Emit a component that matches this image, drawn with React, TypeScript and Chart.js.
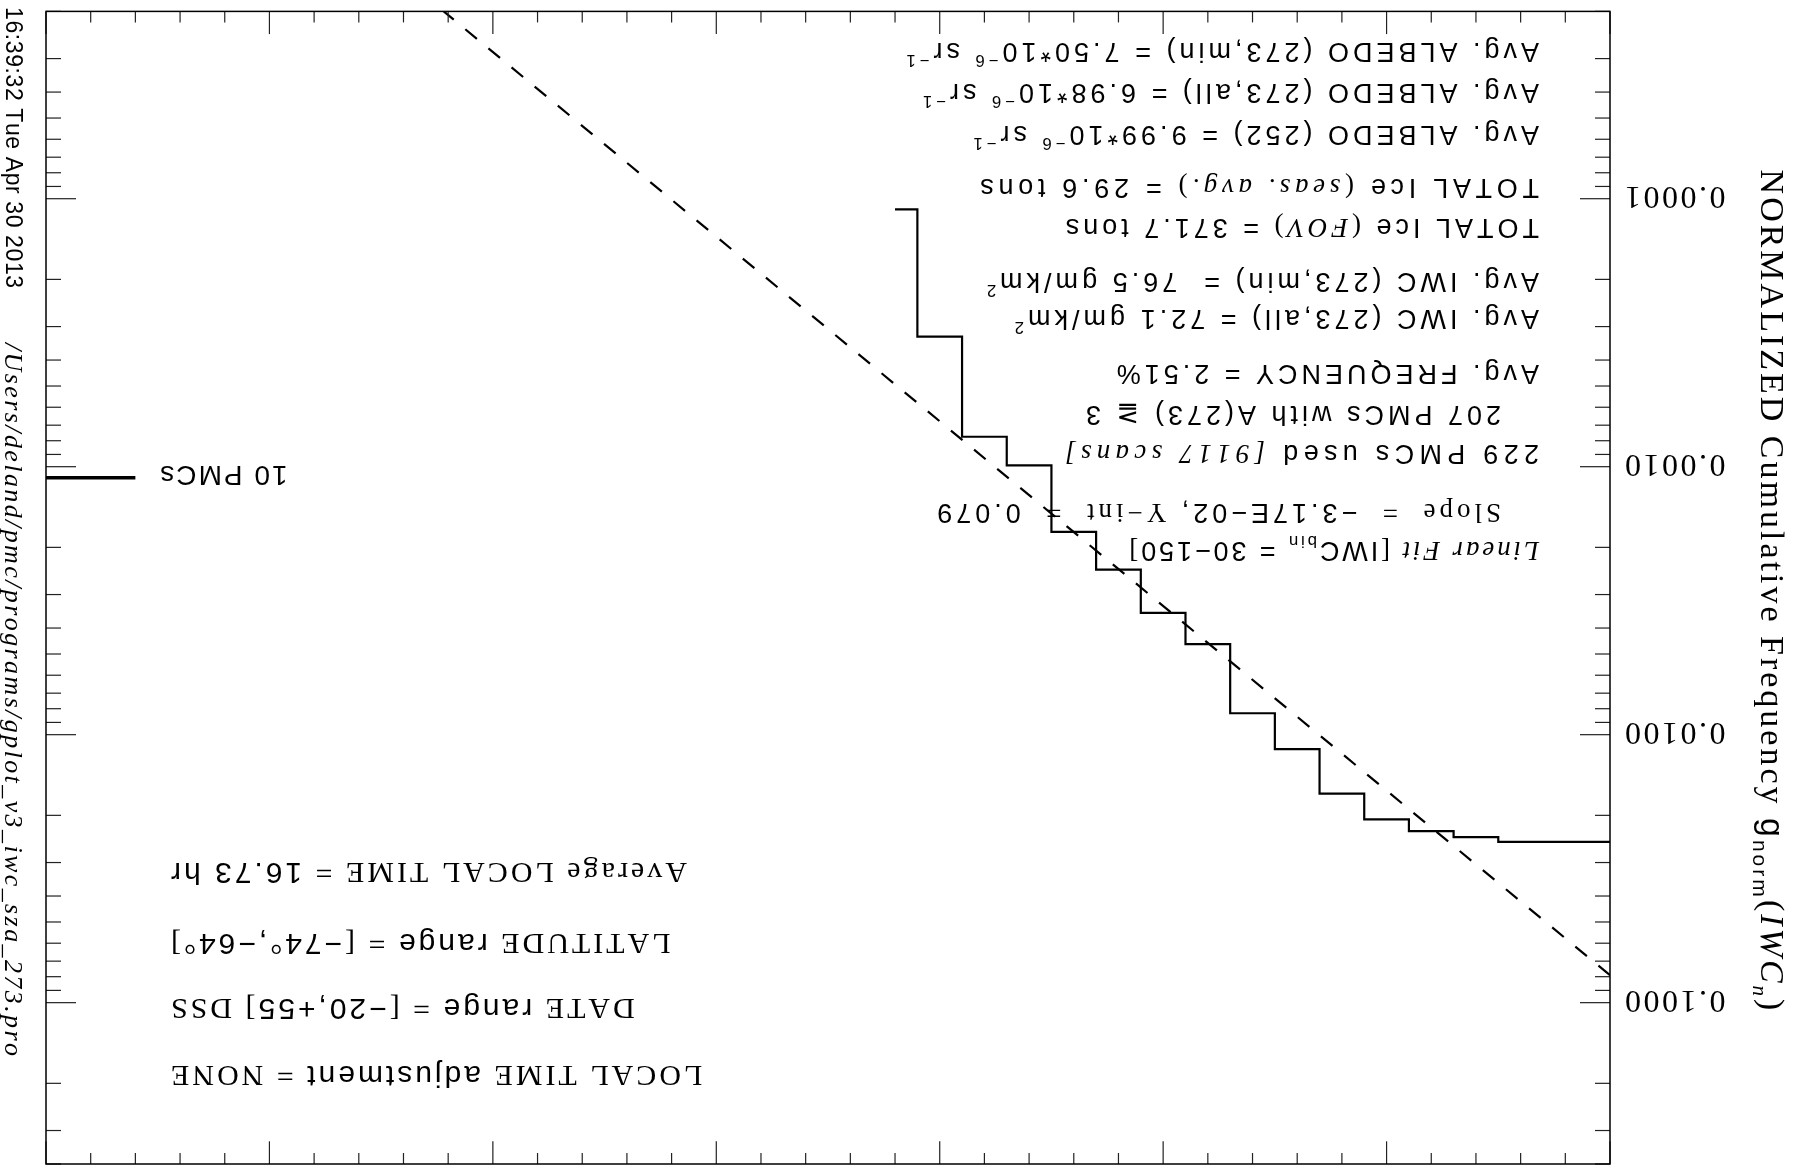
import React, { useEffect, useRef } from "react";
import { Chart, registerables } from "chart.js";

Chart.register(...registerables);

// ---------------- data ----------------
const IWC_BINS = [0, 10, 20, 30, 40, 50, 60, 70, 80, 90, 100, 110, 120, 130, 140, 150, 160];
const G_NORM = [
  0.0251, 0.0251, 0.0251, 0.0241, 0.0229, 0.0207, 0.0166, 0.01133, 0.00832, 0.00459,
  0.00351, 0.00242, 0.00175, 0.000988, 0.000773, 0.000327, 0.0001096,
];
const FIT_IWC = [0, 261];
const FIT_G = [0.079, 0.00002];
const PMC10_IWC = [330, 350];
const PMC10_G = [0.0011, 0.0011];

const X_MIN = 0;
const X_MAX = 350;
const X_MAJOR = 50;
const X_MINOR = 10;
const Y_MIN = 2e-5;
const Y_MAX = 0.4;
const Y_TICK_VALUES = [1e-4, 1e-3, 1e-2, 1e-1];
const Y_TICK_LABELS = ["0.0001", "0.0010", "0.0100", "0.1000"];

type Run = { t: string; s?: "sans" | "serif" | "ital"; v?: "sup" | "sub" };

const STATS_LINES: Run[][] = [
  [{ t: "Linear Fit", s: "ital" }, { t: " [", s: "serif" }, { t: "IWC" }, { t: "bin", v: "sub" }, { t: " = 30\u2212150" }, { t: "]", s: "serif" }],
  [{ t: "Slope  =  ", s: "serif" }, { t: "\u22123.17E\u221202, " }, { t: "Y\u2212int  =  ", s: "serif" }, { t: "0.079" }],
  [{ t: "229 PMCs used " }, { t: "[9117 scans]", s: "ital" }],
  [{ t: "207 PMCs with A(273) \u2267 3" }],
  [{ t: "Avg. FREQUENCY = 2.51%" }],
  [{ t: "Avg. IWC (273,all) = 72.1 gm/km" }, { t: "2", v: "sup" }],
  [{ t: "Avg. IWC (273,min) =  76.5 gm/km" }, { t: "2", v: "sup" }],
  [{ t: "TOTAL Ice " }, { t: "(", s: "serif" }, { t: "FOV", s: "ital" }, { t: ")", s: "serif" }, { t: " = 371.7 tons" }],
  [{ t: "TOTAL Ice " }, { t: "(", s: "serif" }, { t: "seas. avg.", s: "ital" }, { t: ")", s: "serif" }, { t: " = 29.6 tons" }],
  [{ t: "Avg. ALBEDO (252) = 9.99*10" }, { t: "\u22126", v: "sup" }, { t: " sr" }, { t: "\u22121", v: "sup" }],
  [{ t: "Avg. ALBEDO (273,all) = 6.98*10" }, { t: "\u22126", v: "sup" }, { t: " sr" }, { t: "\u22121", v: "sup" }],
  [{ t: "Avg. ALBEDO (273,min) = 7.50*10" }, { t: "\u22126", v: "sup" }, { t: " sr" }, { t: "\u22121", v: "sup" }],
];

const INFO_LINES: Run[][] = [
  [{ t: "LOCAL TIME ", s: "serif" }, { t: "adjustment" }, { t: " = NONE", s: "serif" }],
  [{ t: "DATE ", s: "serif" }, { t: "range" }, { t: " = [", s: "serif" }, { t: "\u221220,+55" }, { t: "] DSS", s: "serif" }],
  [{ t: "LATITUDE ", s: "serif" }, { t: "range" }, { t: " = [", s: "serif" }, { t: "\u221274" }, { t: "\u00b0", s: "serif" }, { t: ",\u221264" }, { t: "\u00b0]", s: "serif" }],
  [{ t: "Average LOCAL TIME = ", s: "serif" }, { t: "16.73 hr" }],
];

const Y_TITLE: Run[] = [
  { t: "NORMALIZED Cumulative Frequency ", s: "serif" },
  { t: "g" },
  { t: "norm", v: "sub" },
  { t: "(", s: "serif" },
  { t: "IWC", s: "ital" },
  { t: "n", s: "ital", v: "sub" },
  { t: ")", s: "serif" },
];
const STAMP: Run[] = [{ t: "16:39:32 Tue Apr 30 2013" }];
const PATH: Run[] = [{ t: "/Users/deland/pmc/programs/gplot_v3_iwc_sza_273.pro", s: "ital" }];
const PMC_LABEL: Run[] = [{ t: "10 PMCs" }];

// ---------------- layout (unrotated page coordinates) ----------------
const W = 1797;
const H = 1169;
const PAD = { left: 187, right: 46, top: 5, bottom: 11.4 };
const STATS_X = [258, 296, 258, 296, 258, 258, 258, 258, 258, 258, 258, 258];
const STATS_Y = [617, 655, 714, 753, 794, 849, 886, 940, 980, 1033, 1075, 1116];
const STATS_LS = [2.9, 4, 5.3, 4, 4, 4, 4, 4, 4.7, 4, 4, 4];
const INFO_RIGHT = 1626;
const INFO_Y = [92, 159, 224, 295];

const FAM: Record<string, string> = {
  sans: '"Liberation Sans", Arial, sans-serif',
  serif: '"Liberation Serif", "Times New Roman", serif',
  ital: '"Liberation Serif", "Times New Roman", serif',
};

function fontFor(r: Run, size: number) {
  const sz = r.v ? size * 0.62 : size;
  const style = r.s === "ital" ? "italic " : "";
  return `${style}${sz}px ${FAM[r.s || "sans"]}`;
}

function runsWidth(ctx: CanvasRenderingContext2D, runs: Run[], size: number, ls: number) {
  let w = 0;
  for (const r of runs) {
    ctx.font = fontFor(r, size);
    for (const ch of r.t) w += ctx.measureText(ch).width + ls;
  }
  return w - ls;
}

function drawRuns(
  ctx: CanvasRenderingContext2D,
  runs: Run[],
  x: number,
  y: number,
  size: number,
  ls: number,
  align: "left" | "right" | "center" = "left"
) {
  const w = runsWidth(ctx, runs, size, ls);
  let cx = align === "right" ? x - w : align === "center" ? x - w / 2 : x;
  const base = y + size * 0.36;
  ctx.textAlign = "left";
  ctx.textBaseline = "alphabetic";
  for (const r of runs) {
    ctx.font = fontFor(r, size);
    const by = r.v === "sup" ? base - size * 0.42 : r.v === "sub" ? base + size * 0.22 : base;
    for (const ch of r.t) {
      ctx.fillText(ch, cx, by);
      cx += ctx.measureText(ch).width + ls;
    }
  }
}

const decor = {
  id: "decor",
  afterDatasetsDraw(chart: any) {
    const ctx: CanvasRenderingContext2D = chart.ctx;
    const a = chart.chartArea;
    const xs = chart.scales.x;
    const ys = chart.scales.y;
    ctx.save();
    const seg = (x1: number, y1: number, x2: number, y2: number) => {
      ctx.beginPath();
      ctx.moveTo(x1, y1);
      ctx.lineTo(x2, y2);
      ctx.stroke();
    };
    // ticks
    ctx.strokeStyle = "#222";
    ctx.lineWidth = 1.2;
    const nx = Math.round((X_MAX - X_MIN) / X_MINOR);
    for (let i = 0; i <= nx; i++) {
      const v = X_MIN + i * X_MINOR;
      const px = xs.getPixelForValue(v);
      const len = v % X_MAJOR === 0 ? 22.7 : 11;
      seg(px, a.bottom, px, a.bottom - len);
      seg(px, a.top, px, a.top + len);
    }
    for (let e = -6; e <= 1; e++) {
      for (let k = 1; k <= 9; k++) {
        const v = k * Math.pow(10, e);
        if (v < Y_MIN * 0.999 || v > Y_MAX * 1.001) continue;
        const py = ys.getPixelForValue(v);
        const len = k === 1 ? 30 : 15;
        seg(a.left, py, a.left + len, py);
        seg(a.right, py, a.right - len, py);
      }
    }
    // frame
    ctx.strokeStyle = "#000";
    ctx.lineWidth = 1.5;
    ctx.strokeRect(a.left, a.top, a.right - a.left, a.bottom - a.top);

    ctx.fillStyle = "#000";
    // y tick labels
    Y_TICK_VALUES.forEach((v, i) => {
      drawRuns(ctx, [{ t: Y_TICK_LABELS[i], s: "serif" }], a.left - 15, ys.getPixelForValue(v), 32, 2.5, "right");
    });
    // y title
    ctx.save();
    ctx.translate(24, 579);
    ctx.rotate(-Math.PI / 2);
    drawRuns(ctx, Y_TITLE, 0, 0, 34, 3, "center");
    ctx.restore();
    // timestamp + path
    ctx.save();
    ctx.translate(1783, 1162);
    ctx.rotate(-Math.PI / 2);
    drawRuns(ctx, STAMP, 0, 0, 23, 0.6, "left");
    drawRuns(ctx, PATH, 336, 0, 26, 2.4, "left");
    ctx.restore();
    // stats block
    STATS_LINES.forEach((runs, i) => drawRuns(ctx, runs, STATS_X[i], STATS_Y[i], 27, STATS_LS[i], "left"));
    // info block
    INFO_LINES.forEach((runs, i) => drawRuns(ctx, runs, INFO_RIGHT, INFO_Y[i], 30, 3, "right"));
    // 10 PMCs label
    drawRuns(ctx, PMC_LABEL, xs.getPixelForValue(PMC10_IWC[0]) - 25, ys.getPixelForValue(PMC10_G[0]) + 2, 28, 2, "right");
    ctx.restore();
  },
};

export default function App() {
  const ref = useRef<HTMLCanvasElement>(null);
  useEffect(() => {
    document.body.style.margin = "0";
    document.body.style.overflow = "hidden";
    const canvas = ref.current!;
    const chart = new Chart(canvas, {
      type: "line",
      data: {
        datasets: [
          {
            data: IWC_BINS.map((x, i) => ({ x, y: G_NORM[i] })),
            borderColor: "#000",
            borderWidth: 2.2,
            stepped: "middle",
            pointRadius: 0,
            fill: false,
          },
          {
            data: FIT_IWC.map((x, i) => ({ x, y: FIT_G[i] })),
            borderColor: "#000",
            borderWidth: 2.2,
            borderDash: [15, 15],
            pointRadius: 0,
            fill: false,
          },
          {
            data: PMC10_IWC.map((x, i) => ({ x, y: PMC10_G[i] })),
            borderColor: "#000",
            borderWidth: 3.5,
            pointRadius: 0,
            fill: false,
          },
        ],
      },
      options: {
        responsive: false,
        maintainAspectRatio: false,
        devicePixelRatio: 1,
        animation: false,
        events: [],
        layout: { padding: PAD },
        elements: { line: { tension: 0 } },
        scales: {
          x: { type: "linear", min: X_MIN, max: X_MAX, display: false },
          y: { type: "logarithmic", min: Y_MIN, max: Y_MAX, display: false },
        },
        plugins: { legend: { display: false }, tooltip: { enabled: false } },
      },
      plugins: [decor],
    } as any);
    return () => chart.destroy();
  }, []);
  return (
    <div
      style={{
        position: "absolute",
        left: 0,
        top: 0,
        width: W,
        height: H,
        background: "#fff",
        transform: "rotate(180deg)",
      }}
    >
      <canvas ref={ref} width={W} height={H} style={{ width: W, height: H, display: "block" }} />
    </div>
  );
}
